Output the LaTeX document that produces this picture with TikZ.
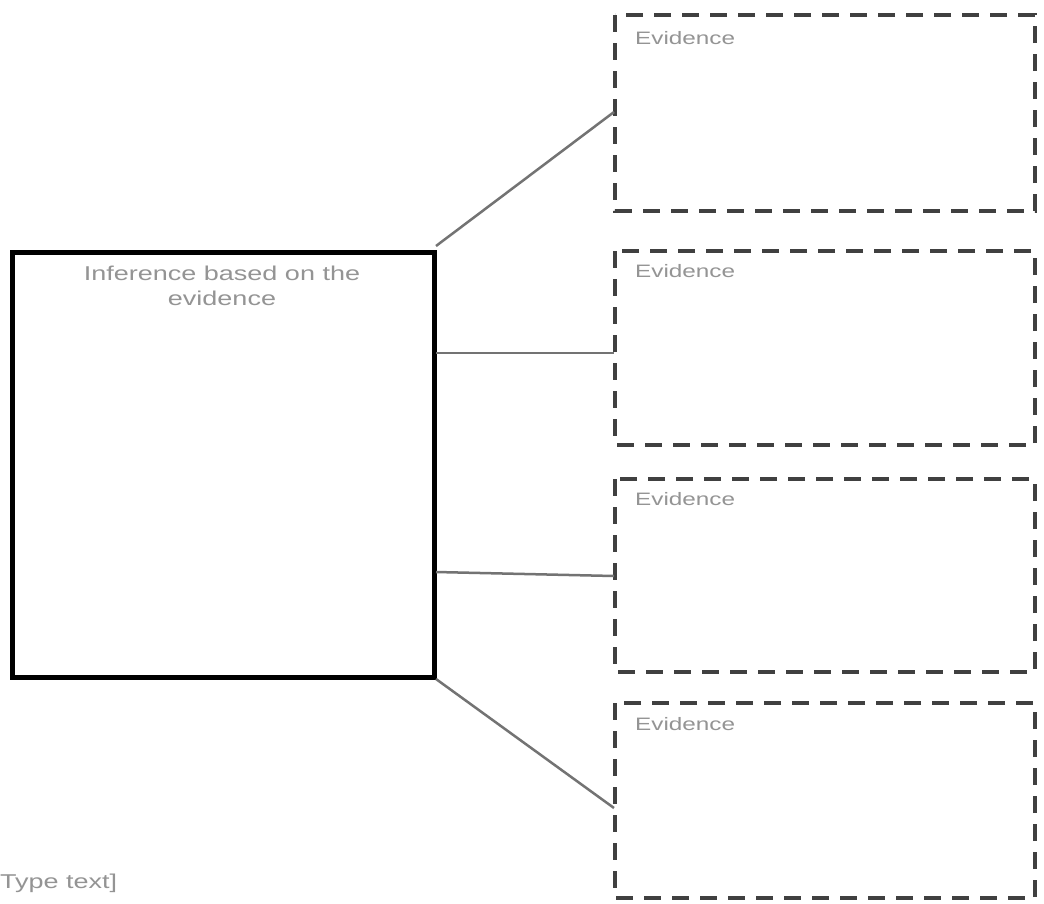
\documentclass[tikz,border=0pt]{standalone}
\usepackage{fontspec}
\setmainfont{Liberation Sans}
\newfontfamily\widefont[FakeStretch=1.35]{Liberation Sans}
\begin{document}
\begin{tikzpicture}[x=1pt,y=-1pt,
  mainbox/.style={draw=black,line width=5pt},
  evbox/.style={draw=black!75,line width=4pt,dash pattern=on 17pt off 11pt},
  conn/.style={draw=black!55,line width=2.5pt},
  lbl/.style={text=black!42,font=\widefont\fontsize{18}{22}\selectfont,inner sep=0pt,anchor=north west}]
\useasboundingbox (0,0) rectangle (1044,903);
\fill[white] (0,0) rectangle (1044,903);
% main box
\draw[mainbox] (12,252) rectangle (434,677);
\coordinate (mtr) at (436,246);
\coordinate (m2) at (436,353);
\coordinate (m3) at (436,572);
\coordinate (mbr) at (436,679);
\node[text=black!42,font=\widefont\fontsize{20}{25}\selectfont,align=center,anchor=north,inner sep=0pt] (inf) at (222,266) {Inference based on the\\evidence};
% evidence boxes
\draw[evbox] (615,15) rectangle (1035,211);
\draw[evbox] (615,251) rectangle (1035,445);
\draw[evbox] (615,479) rectangle (1035,672);
\draw[evbox] (615,703) rectangle (1035,898);
\coordinate (e1) at (614,112);
\coordinate (e2) at (614,353);
\coordinate (e3) at (614,576);
\coordinate (e4) at (614,808);
\node[lbl] (t1) at (635,31) {Evidence};
\node[lbl] (t2) at (635,264) {Evidence};
\node[lbl] (t3) at (635,492) {Evidence};
\node[lbl] (t4) at (635,717) {Evidence};
% connectors
\draw[conn] (mtr) -- (e1);
\draw[conn] (m2) -- (e2);
\draw[conn] (m3) -- (e3);
\draw[conn] (mbr) -- (e4);
\node[text=black!42,font=\widefont\fontsize{20}{24}\selectfont,anchor=north west,inner sep=0pt] (tt) at (0,874) {Type text]};
\end{tikzpicture}
\end{document}
